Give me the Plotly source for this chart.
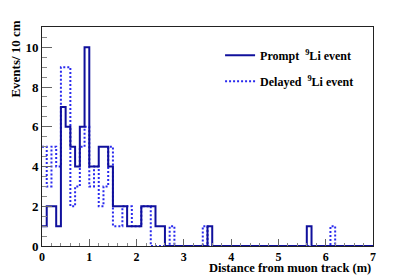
import numpy as np
import plotly.graph_objects as go

bin_width = 0.1
n_bins = 70

# counts per 10 cm bin (index i -> [0.1*i, 0.1*(i+1)) m)
prompt_counts = [1, 2, 2, 1, 7, 6, 5, 4, 6, 10,
                 4, 4, 5, 5, 4, 2, 2, 2, 1, 1,
                 1, 2, 2, 2, 1, 1, 0, 0, 0, 0,
                 0, 0, 0, 0, 0, 1, 0, 0, 0, 0,
                 0, 0, 0, 0, 0, 0, 0, 0, 0, 0,
                 0, 0, 0, 0, 0, 0, 1, 0, 0, 0,
                 0, 0, 0, 0, 0, 0, 0, 0, 0, 0]
delayed_counts = [5, 3, 5, 4, 9, 9, 2, 3, 5, 6,
                  3, 4, 2, 3, 5, 1, 1, 2, 2, 1,
                  1, 2, 2, 0, 0, 0, 0, 1, 0, 0,
                  0, 0, 0, 0, 1, 0, 0, 0, 0, 0,
                  0, 0, 0, 0, 0, 0, 0, 0, 0, 0,
                  0, 0, 0, 0, 0, 0, 0, 0, 0, 0,
                  0, 1, 0, 0, 0, 0, 0, 0, 0, 0]

x_ticks = [0, 1, 2, 3, 4, 5, 6, 7]
y_ticks = [0, 2, 4, 6, 8, 10]

edges = np.round(np.arange(n_bins + 1) * bin_width, 3)


def step(counts):
    xs = list(edges)
    ys = list(counts) + [counts[-1]]
    return xs, ys


FONT = "Liberation Serif"
solid_col = "#10109c"
dot_col = "#2a2aee"

fig = go.Figure()
xd, yd = step(delayed_counts)
xp, yp = step(prompt_counts)

fig.add_trace(go.Scatter(x=xd, y=yd, mode="lines", line_shape="hv",
                         line=dict(color=dot_col, width=2, dash="2px,2px"),
                         name="Delayed  <sup>9</sup>Li event",
                         legendgroup="b", legendrank=2))
fig.add_trace(go.Scatter(x=xp, y=yp, mode="lines", line_shape="hv",
                         line=dict(color=solid_col, width=2),
                         name="Prompt  <sup>9</sup>Li event",
                         legendgroup="a", legendrank=1))

fig.update_layout(
    width=415, height=276,
    margin=dict(l=42, r=42, t=27, b=28),
    paper_bgcolor="white", plot_bgcolor="white",
    showlegend=True,
    legend=dict(x=0.538, y=(248 - 41) / 221, xanchor="left", yanchor="top",
                bgcolor="rgba(0,0,0,0)", traceorder="grouped", tracegroupgap=7,
                font=dict(family=FONT, size=12, color="black", weight="bold")),
    xaxis=dict(range=[0, 7], showgrid=False, zeroline=False,
               showline=True, linecolor="#222", linewidth=1, mirror=True,
               ticks="inside", ticklen=7, tickcolor="#666",
               tickvals=x_ticks,
               tickfont=dict(family=FONT, size=12, color="black", weight="bold"),
               minor=dict(dtick=0.2, ticks="inside", ticklen=3.5, tickcolor="#888")),
    yaxis=dict(range=[0, 11.02], showgrid=False, zeroline=False,
               showline=True, linecolor="#222", linewidth=1, mirror=True,
               ticks="inside", ticklen=10, tickcolor="#666",
               tickvals=y_ticks,
               tickfont=dict(family=FONT, size=13, color="black", weight="bold"),
               minor=dict(dtick=0.5, ticks="inside", ticklen=5, tickcolor="#888")),
    annotations=[
        dict(text="Events/ 10 cm", xref="paper", yref="paper",
             x=(16 - 42) / 331, y=(248 - 19) / 221, xanchor="center", yanchor="top",
             textangle=-90, showarrow=False,
             font=dict(family=FONT, size=13, color="black", weight="bold")),
        dict(text="Distance from muon track (m)", xref="paper", yref="paper",
             x=1.0, y=(248 - 270) / 221, xanchor="right", yanchor="middle",
             showarrow=False,
             font=dict(family=FONT, size=12.5, color="black", weight="bold")),
    ],
)

fig.write_html("out.html", config={"displayModeBar": False},
               post_script="document.body.style.margin='0';document.body.style.overflow='hidden';")
